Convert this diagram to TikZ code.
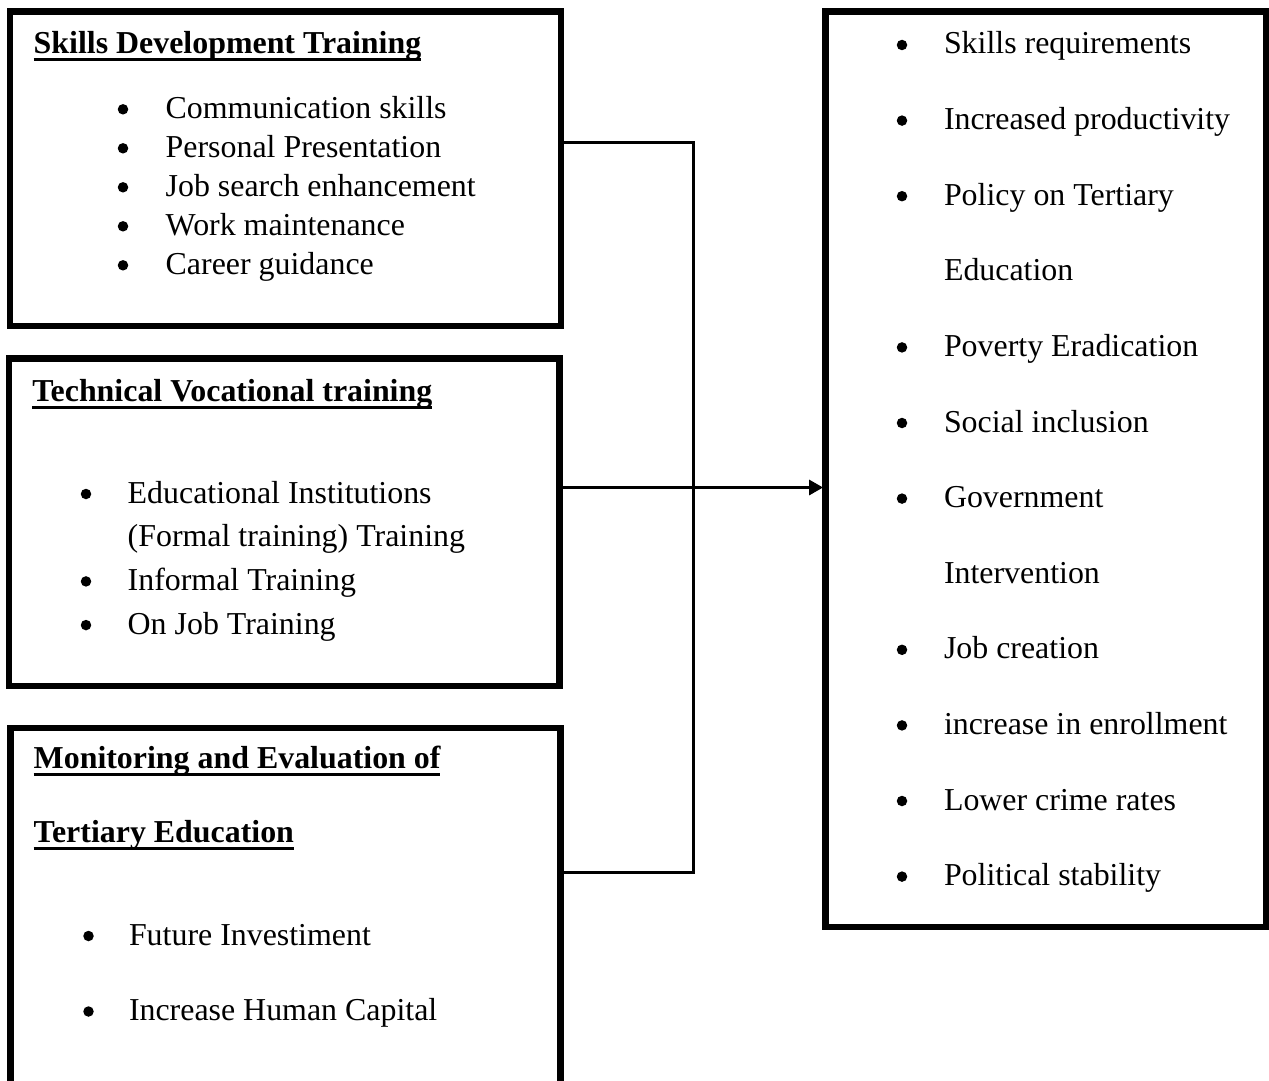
\documentclass[tikz,border=0pt]{standalone}
\usepackage{fontspec}
\setmainfont{Liberation Serif}
\usetikzlibrary{arrows.meta}

% underlined heading text with a heavy rule below the baseline
\newsavebox\headbox
\newcommand\ulhead[1]{\sbox\headbox{#1}\rlap{\vrule height -4.4pt depth 7.3pt width \wd\headbox}\usebox\headbox}

\tikzset{
  frame/.style={draw, line width=6.5pt, outer sep=0pt, inner sep=0pt, anchor=north west},
  txt/.style={anchor=base west, inner sep=0pt, outer sep=0pt, font=\fontsize{31.9}{38}\selectfont},
  head/.style={txt, font=\fontsize{31.9}{38}\selectfont\bfseries},
  dot/.style={circle, fill=black, draw=none, inner sep=0pt, outer sep=0pt, minimum size=10.5pt},
  link/.style={line width=3pt},
}

\begin{document}
\begin{tikzpicture}[x=1pt, y=-1pt]
\useasboundingbox (0,0) rectangle (1269,1081);
\clip (0,0) rectangle (1269,1081);

% boxes
\node[frame, minimum width=551pt, minimum height=314.5pt] (sdt) at (10,11.5) {};
\node[frame, minimum width=550.3pt, minimum height=327.5pt] (tvt) at (9,358.5) {};
\node[frame, minimum width=550.1pt, minimum height=400pt] (mon) at (10.5,728) {};
\node[frame, minimum width=440.6pt, minimum height=915.3pt] (out) at (825.7,11.7) {};

% Skills Development Training
\node[head] (sdt-h) at (33.7,53.3) {\ulhead{Skills Development Training}};
\foreach \t [count=\i from 0] in {Communication skills, Personal Presentation, Job search enhancement, Work maintenance, Career guidance}{
  \node[dot] (sdt-b\i) at (123,118.3+39*\i-9) {};
  \node[txt] (sdt-t\i) at (165.7,118.3+39*\i) {\t};
}

% Technical Vocational training
\node[head] (tvt-h) at (32.3,401.7) {\ulhead{Technical Vocational training}};
\node[dot] (tvt-b0) at (86,503-9) {};
\node[txt] (tvt-t0) at (127.7,503) {Educational Institutions};
\node[txt] (tvt-t0b) at (127.7,546.7) {(Formal training) Training};
\node[dot] (tvt-b1) at (86,590.4-9) {};
\node[txt] (tvt-t1) at (127.7,590.4) {Informal Training};
\node[dot] (tvt-b2) at (86,634.1-9) {};
\node[txt] (tvt-t2) at (127.7,634.1) {On Job Training};

% Monitoring and Evaluation of Tertiary Education
\node[head] (mon-h1) at (33.7,768.3) {\ulhead{Monitoring and Evaluation of}};
\node[head] (mon-h2) at (33.7,842.3) {\ulhead{Tertiary Education}};
\node[dot] (mon-b0) at (88.5,945-9) {};
\node[txt] (mon-t0) at (129,945) {Future Investiment};
\node[dot] (mon-b1) at (88.5,1020.5-9) {};
\node[txt] (mon-t1) at (129,1020.5) {Increase Human Capital};

% outcomes
\foreach \t/\b [count=\i from 0] in {Skills requirements/1, Increased productivity/1, Policy on Tertiary/1, Education/0, Poverty Eradication/1, Social inclusion/1, Government/1, Intervention/0, Job creation/1, increase in enrollment/1, Lower crime rates/1, Political stability/1}{
  \ifnum\b=1 \node[dot] (out-b\i) at (902,54+75.6*\i-9) {};\fi
  \node[txt] (out-t\i) at (944,54+75.6*\i) {\t};
}

% connectors
\coordinate (j1) at (693,142);
\coordinate (j2) at (693,487.5);
\coordinate (j3) at (693,872);
\draw[link] (sdt.east |- j1) -- (j1) -- (j3) -- (mon.east |- j3);
\draw[link, -{Triangle[length=14pt, width=15pt]}, shorten >=2.6pt] (tvt.east |- j2) -- (out.west |- j2);
\end{tikzpicture}
\end{document}
